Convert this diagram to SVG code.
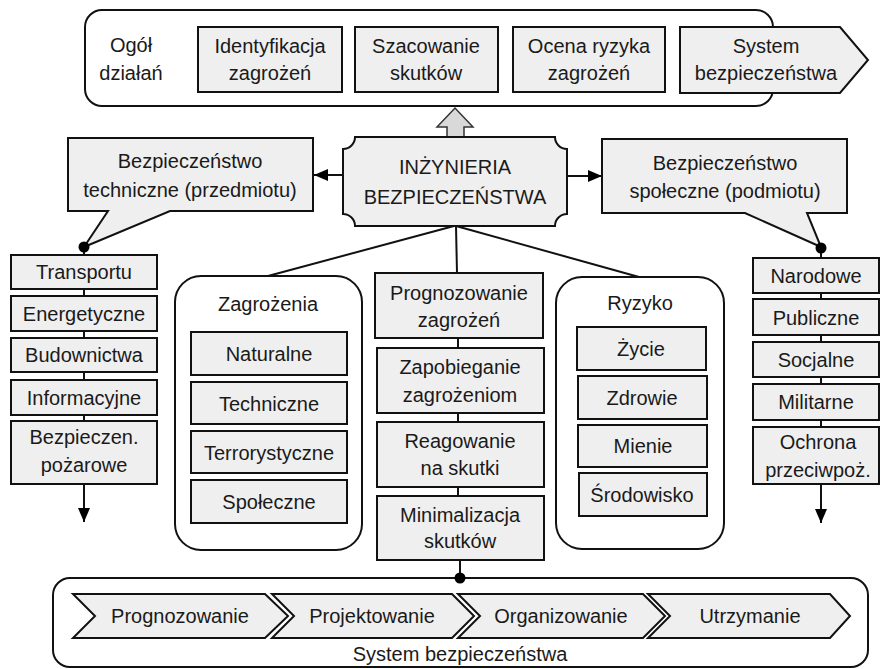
<svg xmlns="http://www.w3.org/2000/svg" width="885" height="669" viewBox="0 0 885 669">
<style>
text{font-family:"Liberation Sans",Arial,sans-serif;font-size:20px;fill:#1a1a1a;text-anchor:middle}
.box{fill:#efefef;stroke:#111;stroke-width:2}
.cont{fill:#fff;stroke:#111;stroke-width:2}
.ln{fill:none;stroke:#111;stroke-width:2}
.dot{fill:#000}
</style>
<defs>
<marker id="ah" viewBox="0 0 14 12" refX="14" refY="6" markerWidth="14" markerHeight="12" markerUnits="userSpaceOnUse" orient="auto">
<path d="M0,0 L14,6 L0,12 Z" fill="#000"/>
</marker>
</defs>
<rect width="885" height="669" fill="#fff"/>

<g id="connectors">
<line class="ln" x1="343" y1="175" x2="314" y2="175" marker-end="url(#ah)"/>
<line class="ln" x1="567" y1="176" x2="602" y2="176" marker-end="url(#ah)"/>
<line class="ln" x1="454" y1="226" x2="268" y2="276"/>
<line class="ln" x1="456" y1="226" x2="457" y2="273"/>
<line class="ln" x1="456" y1="226" x2="639" y2="277"/>
<line class="ln" x1="84" y1="247" x2="84" y2="522" marker-end="url(#ah)"/>
<line class="ln" x1="821" y1="247" x2="821" y2="523" marker-end="url(#ah)"/>
<line class="ln" x1="458" y1="338" x2="458" y2="560"/>
<line class="ln" x1="460" y1="560" x2="460" y2="578"/>
</g>

<g id="top">
<rect class="cont" x="85" y="10" width="688" height="96" rx="17"/>
<text x="131" y="52">Ogół</text>
<text x="131" y="80">działań</text>
<g id="identyfikacja"><rect class="box" x="198" y="27" width="144" height="65"/><text x="270" y="53">Identyfikacja</text><text x="270" y="80">zagrożeń</text></g>
<g id="szacowanie"><rect class="box" x="355" y="27" width="143" height="65"/><text x="426" y="53">Szacowanie</text><text x="426" y="80">skutków</text></g>
<g id="ocena"><rect class="box" x="513" y="27" width="152" height="65"/><text x="589" y="53">Ocena ryzyka</text><text x="589" y="80">zagrożeń</text></g>
<g id="system-top"><path class="box" d="M680 27 H840 L868 60 L840 93 H680 Z"/><text x="766" y="53">System</text><text x="766" y="80">bezpieczeństwa</text></g>
</g>

<g id="up-arrow"><path d="M447 137 V127 H437 L455 108 L473 127 H464 V137 Z" fill="#d9d9d9" stroke="#333" stroke-width="1.5"/></g>

<g id="inzynieria">
<path class="box" d="M355 137 H555 A12 12 0 0 0 567 149 V214 A12 12 0 0 0 555 226 H355 A12 12 0 0 0 343 214 V149 A12 12 0 0 0 355 137 Z"/>
<text x="455" y="174">INŻYNIERIA</text>
<text x="455" y="204">BEZPIECZEŃSTWA</text>
</g>

<g id="tech">
<path class="box" d="M68 138 H313 V211 H170 L84 247 L108 211 H68 Z"/>
<text x="190" y="168">Bezpieczeństwo</text>
<text x="190" y="197">techniczne (przedmiotu)</text>
</g>
<g id="spol">
<path class="box" d="M602 139 H847 V213 H807 L821 247 L745 213 H602 Z"/>
<text x="725" y="170">Bezpieczeństwo</text>
<text x="725" y="198">społeczne (podmiotu)</text>
</g>
<circle class="dot" cx="84" cy="247" r="5.5"/>
<circle class="dot" cx="821" cy="248" r="5.5"/>

<g id="left-col">
<g id="transportu"><rect class="box" x="11" y="255" width="146" height="34"/><text x="84" y="279">Transportu</text></g>
<g id="energetyczne"><rect class="box" x="11" y="296" width="146" height="35"/><text x="84" y="321">Energetyczne</text></g>
<g id="budownictwa"><rect class="box" x="11" y="338" width="146" height="34"/><text x="84" y="362">Budownictwa</text></g>
<g id="informacyjne"><rect class="box" x="11" y="380" width="146" height="35"/><text x="84" y="405">Informacyjne</text></g>
<g id="pozarowe"><rect class="box" x="11" y="421" width="146" height="63"/><text x="84" y="444">Bezpieczen.</text><text x="84" y="472">pożarowe</text></g>
</g>

<g id="zagrozenia">
<rect class="cont" x="175" y="276" width="187" height="274" rx="26"/>
<text x="268" y="311">Zagrożenia</text>
<g id="naturalne"><rect class="box" x="191" y="332" width="156" height="43"/><text x="269" y="361">Naturalne</text></g>
<g id="techniczne"><rect class="box" x="191" y="382" width="156" height="42"/><text x="269" y="411">Techniczne</text></g>
<g id="terrorystyczne"><rect class="box" x="191" y="431" width="156" height="42"/><text x="269" y="460">Terrorystyczne</text></g>
<g id="spoleczne"><rect class="box" x="191" y="480" width="156" height="43"/><text x="269" y="509">Społeczne</text></g>
</g>

<g id="middle-col">
<g id="prognozowanie-z"><rect class="box" x="375" y="273" width="168" height="65"/><text x="459" y="300">Prognozowanie</text><text x="459" y="327">zagrożeń</text></g>
<g id="zapobieganie"><rect class="box" x="377" y="348" width="167" height="65"/><text x="460" y="374">Zapobieganie</text><text x="460" y="402">zagrożeniom</text></g>
<g id="reagowanie"><rect class="box" x="377" y="422" width="167" height="65"/><text x="460" y="448">Reagowanie</text><text x="460" y="475">na skutki</text></g>
<g id="minimalizacja"><rect class="box" x="377" y="496" width="167" height="64"/><text x="460" y="522">Minimalizacja</text><text x="460" y="548">skutków</text></g>
</g>

<g id="ryzyko">
<rect class="cont" x="556" y="277" width="168" height="272" rx="26"/>
<text x="640" y="310">Ryzyko</text>
<g id="zycie"><rect class="box" x="577" y="327" width="129" height="43"/><text x="641" y="356">Życie</text></g>
<g id="zdrowie"><rect class="box" x="578" y="376" width="129" height="43"/><text x="642" y="405">Zdrowie</text></g>
<g id="mienie"><rect class="box" x="578" y="425" width="129" height="42"/><text x="643" y="453">Mienie</text></g>
<g id="srodowisko"><rect class="box" x="579" y="473" width="128" height="43"/><text x="642" y="502">Środowisko</text></g>
</g>

<g id="right-col">
<g id="narodowe"><rect class="box" x="753" y="258" width="126" height="35"/><text x="816" y="283">Narodowe</text></g>
<g id="publiczne"><rect class="box" x="753" y="299" width="126" height="36"/><text x="816" y="325">Publiczne</text></g>
<g id="socjalne"><rect class="box" x="753" y="342" width="126" height="35"/><text x="816" y="367">Socjalne</text></g>
<g id="militarne"><rect class="box" x="753" y="384" width="126" height="36"/><text x="816" y="409">Militarne</text></g>
<g id="ochrona"><rect class="box" x="753" y="427" width="126" height="57"/><text x="818" y="449">Ochrona</text><text x="818" y="477">przeciwpoż.</text></g>
</g>

<g id="system-bottom">
<rect class="cont" x="53" y="578" width="815" height="89" rx="17"/>
<g id="ch1"><path class="box" d="M73 594 H265 L288 616 L265 638 H73 L95 616 Z"/><text x="180" y="623">Prognozowanie</text></g>
<g id="ch2"><path class="box" d="M272 594 H452 L474 616 L452 638 H272 L294 616 Z"/><text x="372" y="623">Projektowanie</text></g>
<g id="ch3"><path class="box" d="M458 594 H643 L665 616 L643 638 H458 L480 616 Z"/><text x="561" y="623">Organizowanie</text></g>
<g id="ch4"><path class="box" d="M648 594 H830 L850 616 L830 638 H648 L670 616 Z"/><text x="750" y="623">Utrzymanie</text></g>
<text x="460" y="661">System bezpieczeństwa</text>
</g>
<circle class="dot" cx="460" cy="578" r="5.5"/>
</svg>
